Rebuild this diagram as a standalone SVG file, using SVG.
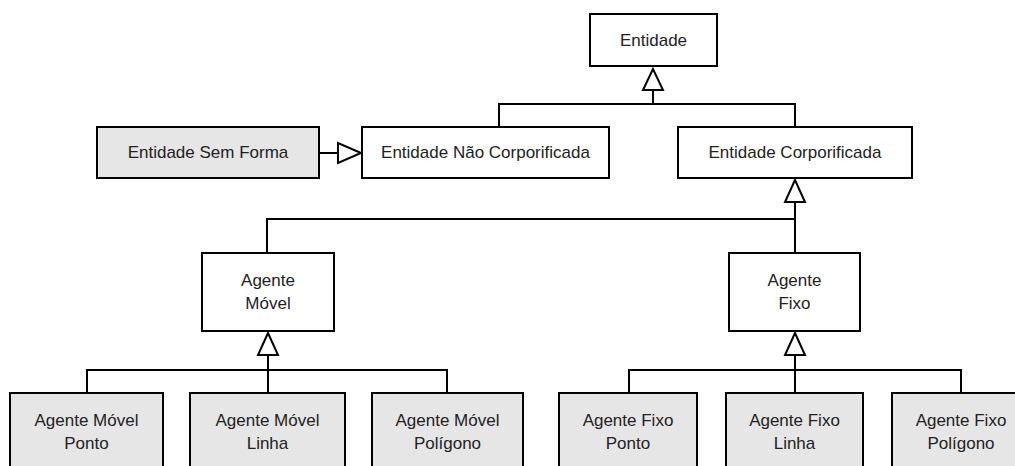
<svg xmlns="http://www.w3.org/2000/svg" width="1015" height="466" viewBox="0 0 1015 466">
  <style>
    .box { fill: #ffffff; stroke: #000000; stroke-width: 2; }
    .box.shaded { fill: #e6e6e6; }
    .label { font-family: "Liberation Sans", Arial, sans-serif; font-size: 17px; fill: #222222; text-anchor: middle; }
    .edge { fill: none; stroke: #000000; stroke-width: 2; }
    .head { fill: #ffffff; stroke: #000000; stroke-width: 2; stroke-linejoin: miter; }
  </style>
  <rect width="1015" height="466" fill="#ffffff"/>

  <g id="connectors">
    <!-- Entidade <- Nao Corporificada / Corporificada -->
    <path class="edge" d="M499 127 V104 H795 V126 M653 104 V90"/>
    <polygon class="head" points="653,69 643,90 663,90"/>
    <!-- Sem Forma -> Nao Corporificada -->
    <path class="edge" d="M319 153 H338"/>
    <polygon class="head" points="361,153 338,143 338,163"/>
    <!-- Corporificada <- Agente Movel / Agente Fixo -->
    <path class="edge" d="M267 253 V219 H795 V253 M795 219 V202"/>
    <polygon class="head" points="795,180 785,202 805,202"/>
    <!-- Agente Movel <- subtypes -->
    <path class="edge" d="M87 393 V370 H447 V393 M268 393 V355"/>
    <polygon class="head" points="268,333 258,355 278,355"/>
    <!-- Agente Fixo <- subtypes -->
    <path class="edge" d="M629 393 V370 H961 V393 M795 393 V355"/>
    <polygon class="head" points="795,333 785,355 805,355"/>
  </g>

  <g id="entidade">
    <rect class="box" x="590" y="14" width="127" height="52"/>
    <text class="label" x="653.5" y="46">Entidade</text>
  </g>
  <g id="entidade-sem-forma">
    <rect class="box shaded" x="97" y="127" width="222" height="51"/>
    <text class="label" x="208" y="158">Entidade Sem Forma</text>
  </g>
  <g id="entidade-nao-corporificada">
    <rect class="box" x="362" y="127" width="247" height="51"/>
    <text class="label" x="485.5" y="158">Entidade Não Corporificada</text>
  </g>
  <g id="entidade-corporificada">
    <rect class="box" x="678" y="127" width="234" height="51"/>
    <text class="label" x="795" y="158">Entidade Corporificada</text>
  </g>
  <g id="agente-movel">
    <rect class="box" x="202" y="253" width="132" height="78"/>
    <text class="label" x="268" y="286">Agente</text>
    <text class="label" x="268" y="309">Móvel</text>
  </g>
  <g id="agente-fixo">
    <rect class="box" x="729" y="253" width="131" height="78"/>
    <text class="label" x="794.5" y="286">Agente</text>
    <text class="label" x="794.5" y="309">Fixo</text>
  </g>
  <g id="agente-movel-ponto">
    <rect class="box shaded" x="10" y="393" width="153" height="90"/>
    <text class="label" x="86.5" y="426">Agente Móvel</text>
    <text class="label" x="86.5" y="449">Ponto</text>
  </g>
  <g id="agente-movel-linha">
    <rect class="box shaded" x="190" y="393" width="155" height="90"/>
    <text class="label" x="267.5" y="426">Agente Móvel</text>
    <text class="label" x="267.5" y="449">Linha</text>
  </g>
  <g id="agente-movel-poligono">
    <rect class="box shaded" x="372" y="393" width="151" height="90"/>
    <text class="label" x="447.5" y="426">Agente Móvel</text>
    <text class="label" x="447.5" y="449">Polígono</text>
  </g>
  <g id="agente-fixo-ponto">
    <rect class="box shaded" x="559" y="393" width="138" height="90"/>
    <text class="label" x="628" y="426">Agente Fixo</text>
    <text class="label" x="628" y="449">Ponto</text>
  </g>
  <g id="agente-fixo-linha">
    <rect class="box shaded" x="726" y="393" width="137" height="90"/>
    <text class="label" x="794.5" y="426">Agente Fixo</text>
    <text class="label" x="794.5" y="449">Linha</text>
  </g>
  <g id="agente-fixo-poligono">
    <rect class="box shaded" x="892" y="393" width="138" height="90"/>
    <text class="label" x="961" y="426">Agente Fixo</text>
    <text class="label" x="961" y="449">Polígono</text>
  </g>
</svg>
